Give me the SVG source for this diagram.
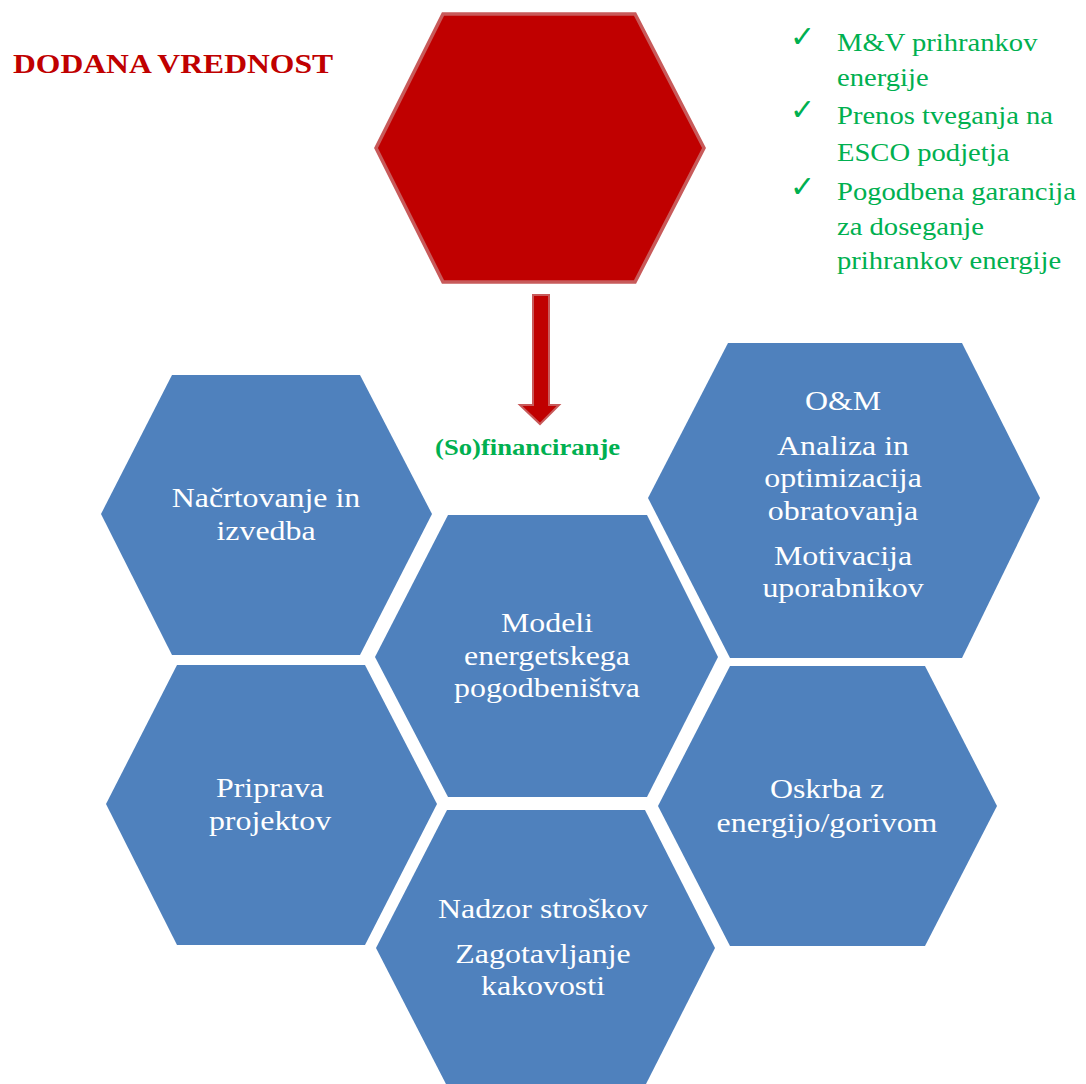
<svg xmlns="http://www.w3.org/2000/svg" width="1086" height="1084" viewBox="0 0 1086 1084">
<style>
.hex{fill:#4F81BD;}
.lbl{font-family:"Liberation Serif","Times New Roman",serif;font-size:27.5px;fill:#FFFFFF;text-anchor:middle;}
.chk{font-family:"Liberation Serif","Times New Roman",serif;font-size:26px;fill:#00B050;}
.tick{font-family:"DejaVu Sans",sans-serif;font-size:30px;fill:#00B050;}
.title{font-family:"Liberation Serif","Times New Roman",serif;font-size:28px;font-weight:bold;fill:#C00000;}
.fin{font-family:"Liberation Serif","Times New Roman",serif;font-size:23px;font-weight:bold;fill:#00B050;}
</style>
<rect width="1086" height="1084" fill="#FFFFFF"/>

<g id="title">
<text class="title" transform="translate(13,0) scale(1.13,1)" x="0" y="73">DODANA VREDNOST</text>
</g>

<g id="value-hex">
<polygon points="443,14 635,14 704,148 635,282 443,282 376,148" fill="#C00000" stroke="#C85A5A" stroke-width="3.5"/>
</g>

<g id="checklist">
<text class="tick" x="790" y="47">✓</text>
<text class="tick" x="790" y="120">✓</text>
<text class="tick" x="790" y="197">✓</text>
<text class="chk" transform="translate(837,0) scale(1.1,1)">
<tspan x="0" y="51">M&amp;V prihrankov</tspan>
<tspan x="0" y="86">energije</tspan>
<tspan x="0" y="124">Prenos tveganja na</tspan>
<tspan x="0" y="161">ESCO podjetja</tspan>
<tspan x="0" y="200">Pogodbena garancija</tspan>
<tspan x="0" y="235">za doseganje</tspan>
<tspan x="0" y="269">prihrankov energije</tspan>
</text>
</g>

<g id="connectors">
<polygon points="533,295 549,295 549,405 559,405 540,424 520,405 533,405" fill="#C00000" stroke="#C85A5A" stroke-width="2"/>
</g>

<g id="financing-label">
<text class="fin" transform="translate(435,0) scale(1.16,1)" x="0" y="455">(So)financiranje</text>
</g>

<g id="node-nacrtovanje">
<polygon class="hex" points="172,375 360,375 432,514 360,655 172,655 101,514"/>
<text class="lbl" transform="translate(266,0) scale(1.16,1)"><tspan x="0" y="507">Načrtovanje in</tspan><tspan x="0" y="540">izvedba</tspan></text>
</g>

<g id="node-om">
<polygon class="hex" points="728,343 962,343 1040,498 962,658 730,658 648,498"/>
<text class="lbl" transform="translate(843,0) scale(1.16,1)"><tspan x="0" y="410">O&amp;M</tspan><tspan x="0" y="455">Analiza in</tspan><tspan x="0" y="487">optimizacija</tspan><tspan x="0" y="520">obratovanja</tspan><tspan x="0" y="565">Motivacija</tspan><tspan x="0" y="597">uporabnikov</tspan></text>
</g>

<g id="node-modeli">
<polygon class="hex" points="448,515 647,515 718,657 647,797 448,797 375,657"/>
<text class="lbl" transform="translate(547,0) scale(1.16,1)"><tspan x="0" y="632">Modeli</tspan><tspan x="0" y="665">energetskega</tspan><tspan x="0" y="697">pogodbeništva</tspan></text>
</g>

<g id="node-priprava">
<polygon class="hex" points="177,665 365,665 437,804 365,945 177,945 106,804"/>
<text class="lbl" transform="translate(270,0) scale(1.16,1)"><tspan x="0" y="797">Priprava</tspan><tspan x="0" y="830">projektov</tspan></text>
</g>

<g id="node-oskrba">
<polygon class="hex" points="730,666 925,666 997,806 925,946 730,946 658,806"/>
<text class="lbl" transform="translate(827,0) scale(1.16,1)"><tspan x="0" y="798">Oskrba z</tspan><tspan x="0" y="832">energijo/gorivom</tspan></text>
</g>

<g id="node-nadzor">
<polygon class="hex" points="447,810 645,810 715,948 645,1086 447,1086 376,948"/>
<text class="lbl" transform="translate(543,0) scale(1.16,1)"><tspan x="0" y="918">Nadzor stroškov</tspan><tspan x="0" y="963">Zagotavljanje</tspan><tspan x="0" y="995">kakovosti</tspan></text>
</g>
</svg>
